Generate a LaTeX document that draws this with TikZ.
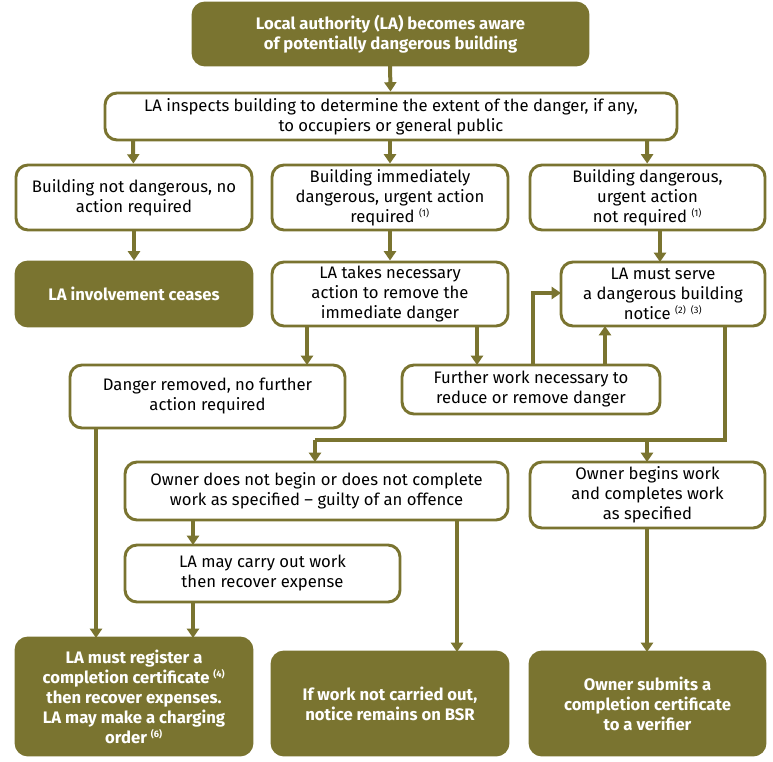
\documentclass[tikz,border=0pt]{standalone}
\usepackage{fontspec}
\setmainfont{Fira Sans}
\usetikzlibrary{arrows.meta}
\definecolor{olive}{HTML}{7A7430}
\newcommand{\sn}[1]{\textsuperscript{\scriptsize(#1)}}
\begin{document}
\begin{tikzpicture}[x=0.75pt,y=-0.75pt,
 box/.style={draw=olive,line width=2.2pt,rounded corners=9pt,fill=white,align=center,inner sep=0pt,font=\fontsize{12.5}{15}\selectfont},
 fbox/.style={box,fill=olive,text=white,font=\fontsize{12.5}{15}\selectfont\bfseries},
 ar/.style={draw=olive,line width=3pt,-{Triangle[width=9pt,length=7pt]}},
 ln/.style={draw=olive,line width=3pt}]
\useasboundingbox (0,0) rectangle (773,762);
\newcommand{\bx}[6]{\node[#1,minimum width={(#4-#2)*0.75pt},minimum height={(#5-#3)*0.75pt}] (#6) at ({(#2+#4)/2},{(#3+#5)/2}) {};}
\bx{fbox}{193}{3}{588}{65}{top}
\bx{box}{105}{93}{677}{140}{insp}
\bx{box}{16}{165}{252}{230}{nd}
\bx{box}{272}{165}{508}{230}{imm}
\bx{box}{530}{165}{765}{230}{dn}
\bx{fbox}{16}{262}{252}{326}{ceas}
\bx{box}{272}{262}{508}{326}{act}
\bx{box}{561}{262}{765}{326}{serve}
\bx{box}{70}{365}{345}{428}{rem}
\bx{box}{402}{365}{660}{414}{fw}
\bx{box}{125}{462}{508}{520}{notb}
\bx{box}{530}{462}{765}{528}{beg}
\bx{box}{125}{545}{400}{602}{carry}
\bx{fbox}{16}{638}{252}{755}{reg}
\bx{fbox}{272}{652}{508}{755}{bsr}
\bx{fbox}{530}{652}{765}{755}{sub}
\node[fbox,draw=none,fill=none] at (top) {Local authority (LA) becomes aware\\of potentially dangerous building};
\node[box,draw=none,fill=none] at (insp) {LA inspects building to determine the extent of the danger, if any,\\to occupiers or general public};
\node[box,draw=none,fill=none] at (nd) {Building not dangerous, no\\action required};
\node[box,draw=none,fill=none] at (imm) {Building immediately\\dangerous, urgent action\\required \sn{1}};
\node[box,draw=none,fill=none] at (dn) {Building dangerous,\\urgent action\\not required \sn{1}};
\node[fbox,draw=none,fill=none] at (ceas) {LA involvement ceases};
\node[box,draw=none,fill=none] at (act) {LA takes necessary\\action to remove the\\immediate danger};
\node[box,draw=none,fill=none] at (serve) {LA must serve\\a dangerous building\\notice \sn{2} \sn{3}};
\node[box,draw=none,fill=none] at (rem) {Danger removed, no further\\action required};
\node[box,draw=none,fill=none] at (fw) {Further work necessary to\\reduce or remove danger};
\node[box,draw=none,fill=none] at (notb) {Owner does not begin or does not complete\\work as specified -- guilty of an offence};
\node[box,draw=none,fill=none] at (beg) {Owner begins work\\and completes work\\as specified};
\node[box,draw=none,fill=none] at (carry) {LA may carry out work\\then recover expense};
\node[fbox,draw=none,fill=none] at (reg) {LA must register a\\completion certificate \sn{4}\\then recover expenses.\\LA may make a charging\\order \sn{6}};
\node[fbox,draw=none,fill=none] at (bsr) {If work not carried out,\\notice remains on BSR};
\node[fbox,draw=none,fill=none] at (sub) {Owner submits a\\completion certificate\\to a verifier};
\draw[ar] (390,65) -- (insp);
\draw[ar] (133,140) -- (nd);
\draw[ar] (390,140) -- (imm);
\draw[ar] (647,140) -- (dn);
\draw[ar] (nd) -- (ceas);
\draw[ar] (imm) -- (act);
\draw[ar] (660,230) -- (660,262);
\draw[ar] (307,326) -- (307,365);
\draw[ar] (477,326) -- (477,365);
\draw[ar] (533,365) -- (533,293) -- (561,293);
\draw[ar] (605,365) -- (605,326);
\draw[ln] (725,326) -- (725,440) -- (315,440);
\draw[ar] (315,440) -- (315,462);
\draw[ar] (647,440) -- (647,462);
\draw[ar] (96,428) -- (96,638);
\draw[ar] (193,520) -- (193,545);
\draw[ar] (193,602) -- (193,638);
\draw[ar] (457,520) -- (457,652);
\draw[ar] (647,528) -- (647,652);
\end{tikzpicture}
\end{document}
